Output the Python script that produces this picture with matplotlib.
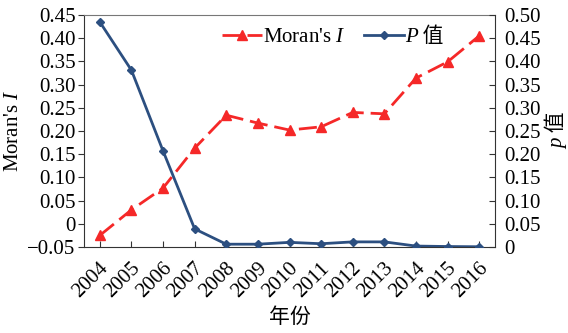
import matplotlib
matplotlib.use("Agg")
import matplotlib.pyplot as plt
from matplotlib.ticker import FuncFormatter, MultipleLocator
from matplotlib.transforms import ScaledTranslation

plt.rcParams['font.family'] = ['Liberation Serif', 'Noto Sans CJK SC']
plt.rcParams['mathtext.fontset'] = 'custom'
plt.rcParams['mathtext.rm'] = 'Liberation Serif'
plt.rcParams['mathtext.it'] = 'Liberation Serif:italic'
plt.rcParams['axes.unicode_minus'] = True

years = ['2004', '2005', '2006', '2007', '2008', '2009', '2010',
         '2011', '2012', '2013', '2014', '2015', '2016']
moran_i = [-0.025, 0.030, 0.077, 0.163, 0.234, 0.217, 0.202,
           0.209, 0.240, 0.237, 0.314, 0.349, 0.405]
p_value = [0.485, 0.381, 0.207, 0.039, 0.006, 0.006, 0.010,
           0.007, 0.011, 0.011, 0.002, 0.001, 0.0005]

red = '#f52828'
blue = '#2c4f80'
fs = 15

fig = plt.figure(figsize=(5.68, 3.33), dpi=100)
ax = fig.add_axes([0.1479, 0.2583, 0.7236, 0.6967])
ax2 = ax.twinx()

x = list(range(len(years)))
l1, = ax.plot(x, moran_i, color=red, linestyle=(0, (6.5, 2.5)), linewidth=2.0,
              marker='^', markersize=7.5, label="Moran's $I$", zorder=3)
l2, = ax2.plot(x, p_value, color=blue, linestyle='-', linewidth=2.0,
               marker='D', markersize=4.5, label="P 值")

ax.set_xlim(-0.5, len(years) - 0.5)
ax.set_ylim(-0.05, 0.45)
ax2.set_ylim(0, 0.5)
ax.yaxis.set_major_locator(MultipleLocator(0.05))
ax2.yaxis.set_major_locator(MultipleLocator(0.05))

def fmt(v, pos):
    if abs(v) < 1e-9:
        return '0'
    return ('%.2f' % v).replace('-', '\u2212')

ax.yaxis.set_major_formatter(FuncFormatter(fmt))
ax2.yaxis.set_major_formatter(FuncFormatter(fmt))

ax.tick_params(axis='y', direction='out', labelsize=fs, length=4, width=0.8,
               color='#333333', pad=2)
ax.tick_params(axis='x', direction='in', labelsize=fs, length=4, width=0.8,
               color='#333333', pad=4)
ax2.tick_params(axis='y', direction='in', labelsize=fs, length=4, width=0.8,
                color='#333333', pad=7)

ax.set_xticks(x)
ax.set_xticklabels(years, rotation=45, ha='right', va='center', rotation_mode='anchor')
off = ScaledTranslation(6 / 100, -13 / 100, fig.dpi_scale_trans)
for lab in ax.get_xticklabels():
    lab.set_transform(lab.get_transform() + off)

ax.spines['top'].set_color('#777777')
ax.spines['left'].set_color('#333333')
ax.spines['bottom'].set_color('#333333')
ax.spines['right'].set_visible(False)
ax2.spines['right'].set_color('#333333')
ax2.spines['top'].set_visible(False)
ax2.spines['left'].set_visible(False)
ax2.spines['bottom'].set_visible(False)

ax.set_ylabel("Moran's $I$", fontsize=fs, labelpad=3)
ax2.set_ylabel("p 值", fontsize=fs, style='italic', labelpad=3)
ax.set_xlabel("年份", fontsize=fs, labelpad=5)

leg = ax.legend([l1, l2], ["Moran's $I$", "P 值"], loc='upper center',
                bbox_to_anchor=(0.605, 1.0), ncol=2, frameon=False,
                fontsize=fs, handlelength=1.9, columnspacing=0.9,
                handletextpad=0.05, borderaxespad=0.2)
leg.get_texts()[1].set_style('italic')

fig.savefig('out.png', dpi=100)
